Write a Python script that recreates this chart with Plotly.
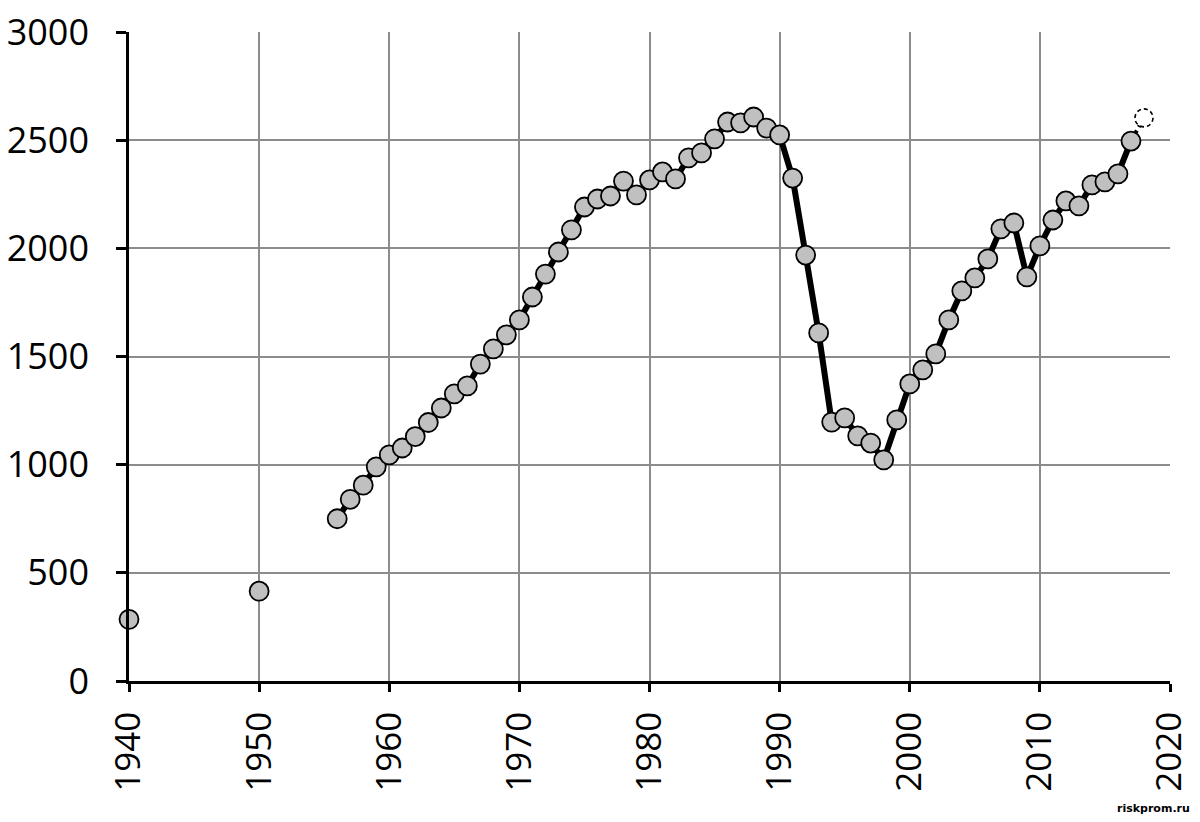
import plotly.graph_objects as go

early_years = [1940, 1950]
early_vals = [285, 415]

years = list(range(1956, 2018))
vals = [750, 840, 905, 990, 1045, 1077, 1130, 1195, 1262, 1327,
        1364, 1465, 1535, 1600, 1669, 1775, 1881, 1983, 2085, 2191,
        2228, 2242, 2311, 2247, 2316, 2353, 2321, 2418, 2441, 2506,
        2584, 2580, 2607, 2556, 2524, 2325, 1969, 1609, 1197, 1216,
        1133, 1100, 1022, 1207, 1373, 1438, 1512, 1669, 1803, 1863,
        1951, 2090, 2117, 1868, 2011, 2131, 2219, 2196, 2293, 2307,
        2344, 2496]

proj_years = [2017, 2018]
proj_vals = [2496, 2603]

x_ticks = [1940, 1950, 1960, 1970, 1980, 1990, 2000, 2010, 2020]
y_ticks = [0, 500, 1000, 1500, 2000, 2500, 3000]

FONT = "Open Sans"
marker = dict(size=19, color="#c0c0c0", line=dict(color="black", width=1.8))

fig = go.Figure()
fig.add_trace(go.Scatter(x=proj_years, y=proj_vals, mode="lines",
                         line=dict(color="black", width=4, dash="dot"),
                         cliponaxis=False, hoverinfo="skip"))
fig.add_trace(go.Scatter(x=years, y=vals, mode="lines+markers",
                         line=dict(color="black", width=6),
                         marker=marker, cliponaxis=False))
fig.add_trace(go.Scatter(x=early_years, y=early_vals, mode="markers",
                         marker=marker, cliponaxis=False))

# projected point: dashed circle
fig.add_shape(type="circle", xref="x", yref="y",
              xsizemode="pixel", ysizemode="pixel",
              xanchor=proj_years[-1], yanchor=proj_vals[-1],
              x0=-9, x1=9, y0=-9, y1=9,
              line=dict(color="black", width=1.6, dash="4px,3px"),
              fillcolor="white", layer="above")

fig.update_layout(
    width=1200, height=822,
    margin=dict(l=121, r=38, t=24, b=149),
    paper_bgcolor="white", plot_bgcolor="white",
    showlegend=False,
    font=dict(family=FONT, color="black"),
)
fig.update_xaxes(range=[1940, 2020], tickvals=x_ticks,
                 ticktext=[str(t) for t in x_ticks],
                 tickangle=-90, tickfont=dict(size=35, family=FONT),
                 showgrid=True, gridcolor="#8c8c8c", gridwidth=2,
                 showline=True, linecolor="black", linewidth=2.5,
                 ticks="outside", ticklen=8, tickwidth=2.5, tickcolor="black",
                 zeroline=False, automargin=False, ticklabelstandoff=6,
                 ticklabeloverflow="allow")
fig.update_yaxes(range=[0, 3000], tickvals=y_ticks,
                 tickfont=dict(size=36, family=FONT),
                 showgrid=True, gridcolor="#8c8c8c", gridwidth=2,
                 showline=True, linecolor="black", linewidth=2.5,
                 ticks="outside", ticklen=10, tickwidth=2.5, tickcolor="black",
                 zeroline=False, automargin=False, ticklabelstandoff=20,
                 ticklabeloverflow="allow")

fig.add_annotation(text="<b>riskprom.ru</b>", xref="paper", yref="paper",
                   x=1.0, y=0, xanchor="right", yanchor="top", yshift=-119,
                   xshift=22, showarrow=False,
                   font=dict(size=11, family="DejaVu Sans", color="black"))

fig.write_html("out.html")
